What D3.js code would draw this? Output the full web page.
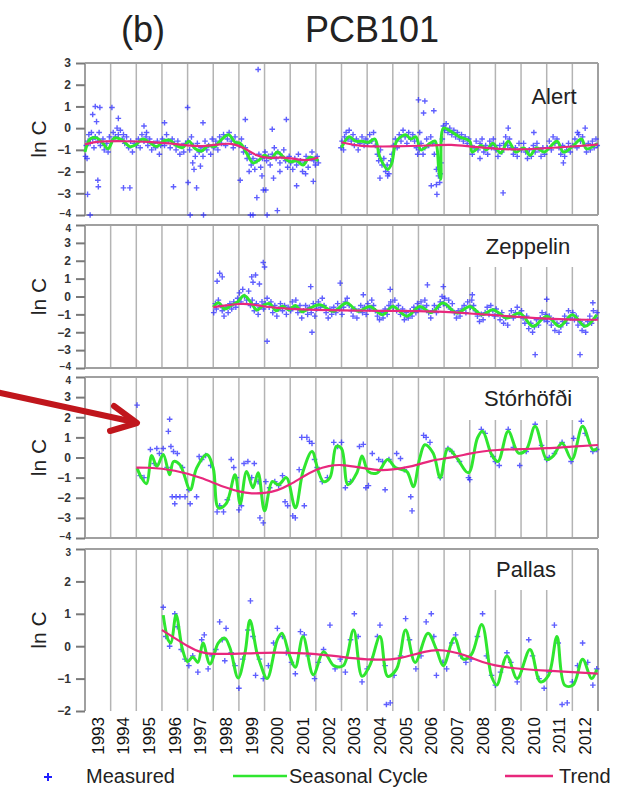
<!DOCTYPE html>
<html>
<head>
<meta charset="utf-8">
<script src="https://cdn.jsdelivr.net/npm/d3@7"></script>
<style>
body { margin: 0; background: #fff; }
svg { display: block; font-family: "Liberation Sans", Arial, sans-serif; }
</style>
</head>
<body>
<svg id="chart" width="631" height="788"></svg>
<script>
// colours
const measuredColor = "#2a2aff";
const seasonalColor = "#2fe62f";
const trendColor = "#e8287c";
const gridColor = "#b4b4b4";
const borderColor = "#a0a0a0";
const arrowColor = "#c0161c";

// x axis: one label per year, written in the middle of the year
const yearLabels = ["1993", "1994", "1995", "1996", "1997", "1998", "1999", "2000", "2001", "2002",
    "2003", "2004", "2005", "2006", "2007", "2008", "2009", "2010", "2011", "2012"];

// y ticks per panel
const alertTicks = [-4, -3, -2, -1, 0, 1, 2, 3];
const zeppelinTicks = [-4, -3, -2, -1, 0, 1, 2, 3, 4];
const storhofdiTicks = [-4, -3, -2, -1, 0, 1, 2, 3, 4];
const pallasTicks = [-2, -1, 0, 1, 2, 3];

// ---- Alert ----  [decimal year, ln C], null = gap in the record
const alertMeasured = [
    [1993.02,-1.3],[1993.05,-0.8],[1993.08,-1.4],[1993.12,-0.6],[1993.15,-0.3],[1993.2,-0.7],[1993.25,-0.2],[1993.3,-0.5],[1993.35,-0.9],[1993.4,-0.4],[1993.5,-0.6],[1993.55,-0.2],[1993.6,-0.8],[1993.7,-0.5],[1993.75,-1.0],[1993.85,-0.7],[1993.9,-1.1],[1993.95,-0.4],
    [1994.05,-0.6],[1994.1,-0.2],[1994.18,-0.4],[1994.25,0.0],[1994.3,-0.3],[1994.38,-0.1],[1994.45,-0.5],[1994.5,-0.3],[1994.55,-0.7],[1994.62,-0.4],[1994.7,-0.9],[1994.78,-0.6],[1994.85,-1.1],[1994.92,-0.7],
    [1995.0,-0.8],[1995.08,-0.5],[1995.15,-0.9],[1995.22,-0.3],[1995.3,-0.6],[1995.38,-0.4],[1995.45,-0.8],[1995.52,-0.5],[1995.6,-1.0],[1995.68,-0.7],[1995.75,-0.9],[1995.82,-0.6],[1995.9,-1.2],[1995.95,-0.8],
    [1996.02,-0.5],[1996.1,-0.8],[1996.18,-0.3],[1996.25,-0.6],[1996.32,-0.9],[1996.4,-0.5],[1996.48,-0.7],[1996.55,-1.0],[1996.62,-0.6],[1996.7,-1.2],[1996.78,-0.8],[1996.85,-1.1],[1996.92,-0.7],
    [1997.02,-0.6],[1997.08,-1.0],[1997.15,-0.4],[1997.22,-0.8],[1997.3,-1.3],[1997.38,-0.7],[1997.45,-1.1],[1997.52,-0.9],[1997.6,-1.3],[1997.68,-0.6],[1997.75,-1.0],[1997.82,-0.8],[1997.9,-1.2],[1997.96,-0.5],
    [1998.03,-0.9],[1998.1,-0.6],[1998.18,-1.0],[1998.25,-0.4],[1998.32,-0.7],[1998.4,-0.3],[1998.48,-0.8],[1998.55,-0.5],[1998.62,-0.2],[1998.7,-0.6],[1998.78,-0.9],[1998.85,-0.4],[1998.92,-0.7],
    [1999.02,-0.8],[1999.1,-0.5],[1999.18,-1.1],[1999.25,-0.9],[1999.32,-1.4],[1999.4,-1.2],[1999.48,-1.7],[1999.55,-1.4],[1999.62,-1.9],[1999.7,-1.5],[1999.78,-1.2],[1999.85,-1.8],[1999.92,-1.4],
    [2000.02,-1.1],[2000.08,-1.5],[2000.15,-1.3],[2000.22,-1.7],[2000.3,-1.2],[2000.38,-0.9],[2000.45,-1.4],[2000.52,-1.1],[2000.6,-1.6],[2000.68,-1.3],[2000.75,-1.0],[2000.82,-1.5],[2000.9,-1.8],[2000.96,-1.3],
    [2001.02,-1.6],[2001.1,-1.9],[2001.18,-1.4],[2001.25,-1.7],[2001.32,-1.2],[2001.4,-1.5],[2001.48,-2.0],[2001.55,-1.6],[2001.62,-1.3],[2001.7,-1.8],[2001.78,-1.4],[2001.85,-1.1],[2001.92,-1.5],[2001.98,-1.7],[2002.05,-1.3],[2002.1,-1.6],
    // outliers
    [1993.4,1.0],[1993.58,0.95],[1993.3,0.63],[1993.45,0.3],[1994.05,0.95],[1993.1,-3.05],[1993.5,-2.4],[1993.52,-2.7],[1993.2,-4.0],[1994.5,-2.75],[1994.75,-2.75],
    [1994.3,0.45],[1995.3,0.1],[1995.4,-0.2],[1996.1,0.25],[1996.45,-2.7],[1997.0,0.95],[1997.02,-2.5],[1997.35,-2.75],[1997.1,-4.0],[1997.6,0.25],[1997.62,-4.0],
    [1997.2,-1.6],[1997.25,-1.9],[1997.5,-1.75],[1999.25,0.4],[1999.05,-2.4],[1999.75,2.7],[1999.95,-2.85],[2000.05,-2.85],[1999.7,-3.2],[1999.45,-4.0],[1999.55,-4.0],
    [2000.1,-4.0],[2000.5,-3.8],[2000.3,-0.05],[2000.85,0.4],[2001.25,-2.65],[2001.9,-2.45],[2000.35,-2.3],[1999.4,-2.0],[1999.9,-2.2],[2000.6,-2.0],[2001.6,-2.1],
    [2002.98,-0.9],[2003.02,-0.6],[2003.08,-1.0],[2003.12,-0.4],[2003.18,-0.2],[2003.25,-0.5],[2003.3,-0.1],[2003.38,-0.6],[2003.45,-0.3],[2003.5,-0.8],[2003.58,-0.5],[2003.65,-1.0],[2003.72,-0.7],[2003.8,-0.4],[2003.88,-0.8],[2003.95,-0.5],
    [2004.02,-0.7],[2004.1,-0.3],[2004.18,-0.6],[2004.25,-0.2],[2004.32,-0.8],[2004.4,-1.2],[2004.45,-1.5],[2004.52,-1.0],[2004.58,-1.7],[2004.65,-1.4],[2004.72,-2.0],[2004.78,-1.7],[2004.85,-2.1],[2004.92,-1.5],[2004.97,-1.2],
    [2005.03,-0.8],[2005.1,-0.5],[2005.17,-0.9],[2005.25,-0.3],[2005.32,-0.6],[2005.4,-0.1],[2005.48,-0.4],[2005.55,-0.7],[2005.62,-0.2],[2005.7,-0.5],[2005.78,-0.3],[2005.85,-0.6],[2005.92,-0.9],[2005.97,-1.2],
    [2006.03,-1.0],[2006.1,-0.7],[2006.18,-1.2],[2006.25,-0.9],[2006.32,-0.5],[2006.4,-0.8],[2006.48,-0.4],[2006.55,-0.7],[2006.62,-1.2],[2006.7,-1.9],[2006.78,-2.2],[2006.83,-2.5],[2006.88,-1.6],[2006.93,-0.5],[2006.97,0.1],
    [2007.02,-0.1],[2007.08,0.2],[2007.15,-0.2],[2007.22,0.0],[2007.3,-0.3],[2007.38,-0.1],[2007.45,-0.4],[2007.52,-0.2],[2007.6,-0.5],[2007.68,-0.3],[2007.75,-0.6],[2007.82,-0.4],[2007.9,-0.7],[2007.96,-0.5],
    [2008.03,-0.8],[2008.1,-1.2],[2008.17,-0.9],[2008.25,-0.6],[2008.32,-1.0],[2008.4,-0.7],[2008.48,-0.5],[2008.55,-1.1],[2008.62,-0.8],[2008.7,-1.2],[2008.78,-0.6],[2008.85,-0.9],[2008.92,-0.5],[2008.97,-0.8],
    [2009.03,-1.0],[2009.1,-1.3],[2009.17,-0.8],[2009.25,-1.1],[2009.32,-0.7],[2009.4,-0.4],[2009.48,-0.8],[2009.55,-0.5],[2009.62,-0.9],[2009.7,-1.2],[2009.78,-0.9],[2009.85,-1.3],[2009.92,-0.7],
    [2010.02,-1.0],[2010.1,-0.7],[2010.18,-1.1],[2010.25,-1.4],[2010.32,-1.0],[2010.4,-1.3],[2010.48,-0.8],[2010.55,-1.1],[2010.62,-0.7],[2010.7,-1.0],[2010.78,-1.3],[2010.85,-0.9],[2010.92,-1.2],
    [2011.02,-0.9],[2011.1,-0.6],[2011.18,-1.0],[2011.25,-0.4],[2011.32,-0.7],[2011.4,-0.5],[2011.48,-0.9],[2011.55,-1.2],[2011.62,-0.8],[2011.7,-1.3],[2011.78,-1.0],[2011.85,-0.7],[2011.92,-1.1],
    [2012.02,-0.8],[2012.1,-0.5],[2012.18,-0.9],[2012.25,-0.3],[2012.32,-0.6],[2012.4,-0.4],[2012.48,-0.8],[2012.55,-1.1],[2012.62,-0.7],[2012.7,-1.0],[2012.78,-0.6],[2012.85,-0.9],[2012.92,-0.5],[2012.97,-0.8],
    // outliers
    [2006.0,1.3],[2006.25,1.25],[2006.2,0.7],[2006.6,0.8],[2006.5,-2.65],[2006.7,-2.6],[2006.72,-3.05],[2006.85,-2.1],[2004.5,-2.3],[2004.8,-2.2],
    [2009.5,0.0],[2010.5,-0.2],[2009.3,-2.98],[2011.65,-1.6],[2012.2,-0.2],[2012.5,0.0],[2006.05,-0.2],[2008.4,-1.4]
];
const alertSeasonal = [
    [1993.0,-1.1],[1993.2,-0.5],[1993.45,-0.45],[1993.7,-0.7],[1993.9,-0.95],[1994.15,-0.45],[1994.45,-0.55],[1994.75,-0.85],[1995.0,-0.75],[1995.25,-0.5],
    [1995.5,-0.65],[1995.8,-0.85],[1996.05,-0.6],[1996.3,-0.55],[1996.55,-0.8],[1996.8,-0.9],[1997.05,-0.6],[1997.3,-0.95],[1997.55,-1.05],[1997.8,-0.8],
    [1998.05,-0.85],[1998.3,-0.55],[1998.6,-0.3],[1998.85,-0.65],[1999.05,-0.7],[1999.3,-1.15],[1999.55,-1.6],[1999.8,-1.45],[2000.0,-1.25],[2000.25,-1.4],
    [2000.5,-1.1],[2000.75,-1.35],[2001.0,-1.55],[2001.25,-1.5],[2001.5,-1.7],[2001.75,-1.35],[2002.1,-1.5],
    null,
    [2003.0,-0.9],[2003.3,-0.4],[2003.55,-0.6],[2003.8,-0.6],[2004.05,-0.65],[2004.3,-0.5],[2004.5,-1.35],[2004.8,-1.9],[2004.95,-1.65],[2005.15,-0.6],
    [2005.5,-0.3],[2005.7,-0.5],[2005.9,-0.4],[2006.1,-1.0],[2006.45,-0.7],[2006.65,-0.6],[2006.8,-2.0],[2006.87,-2.35],[2006.97,0.0],[2007.2,-0.1],
    [2007.6,-0.4],[2008.0,-0.6],[2008.1,-1.1],[2008.45,-0.8],[2008.65,-1.0],[2008.9,-0.7],[2009.2,-1.15],[2009.5,-0.6],[2009.8,-1.1],[2010.1,-0.9],
    [2010.35,-1.25],[2010.6,-0.9],[2010.9,-1.1],[2011.4,-0.6],[2011.65,-1.1],[2012.0,-0.85],[2012.35,-0.5],[2012.55,-0.95],[2012.97,-0.7]
];
const alertTrend = [
    [1993.0,-0.75],[1993.5,-0.6],[1994.5,-0.6],[1995.5,-0.62],[1996.3,-0.7],[1997.0,-0.8],[1997.6,-0.85],[1998.2,-0.75],[1998.7,-0.68],[1999.2,-0.9],
    [1999.7,-1.3],[2000.2,-1.4],[2000.7,-1.32],[2001.3,-1.45],[2001.7,-1.5],[2002.1,-1.35],
    null,
    [2003.0,-0.65],[2003.7,-0.85],[2005.0,-0.85],[2006.5,-0.8],[2007.3,-0.75],[2008.0,-0.85],[2009.0,-0.95],[2010.0,-1.0],[2011.0,-0.92],[2012.0,-0.85],[2013.0,-0.75]
];

// ---- Zeppelin ----
const zeppelinMeasured = [
    [1998.02,-0.9],[1998.08,-0.4],[1998.12,-0.7],[1998.2,-0.2],[1998.28,-0.5],[1998.35,-0.8],[1998.42,-1.1],[1998.5,-0.6],[1998.58,-0.9],[1998.65,-0.4],[1998.72,-0.7],[1998.8,-0.3],[1998.88,-0.6],[1998.95,-0.1],
    [1999.02,0.2],[1999.08,-0.3],[1999.15,0.4],[1999.22,0.0],[1999.3,-0.2],[1999.38,0.3],[1999.45,-0.5],[1999.52,-0.2],[1999.6,-0.8],[1999.68,-0.4],[1999.75,-1.0],[1999.82,-0.6],[1999.9,-0.3],[1999.96,-0.7],
    [2000.03,-0.4],[2000.1,-0.1],[2000.18,-0.6],[2000.25,-0.3],[2000.32,-0.9],[2000.4,-0.5],[2000.48,-1.1],[2000.55,-0.7],[2000.62,-0.4],[2000.7,-0.8],[2000.78,-0.5],[2000.85,-1.0],[2000.92,-0.6],
    [2001.02,-0.8],[2001.08,-0.3],[2001.15,-0.6],[2001.22,-0.2],[2001.3,-0.9],[2001.38,-0.5],[2001.45,-1.2],[2001.52,-0.8],[2001.6,-0.5],[2001.68,-1.0],[2001.75,-0.6],[2001.82,-0.9],[2001.9,-0.4],[2001.96,-1.1],
    [2002.03,-0.7],[2002.1,-0.3],[2002.18,-0.6],[2002.25,-0.1],[2002.32,-0.5],[2002.4,-0.9],[2002.48,-1.2],[2002.55,-0.7],[2002.62,-1.0],[2002.7,-0.6],[2002.78,-0.9],[2002.85,-0.4],[2002.92,-0.7],
    [2003.02,-1.0],[2003.08,-0.6],[2003.15,-0.3],[2003.22,-0.1],[2003.3,-0.5],[2003.38,-0.8],[2003.45,-1.1],[2003.52,-0.7],[2003.6,-1.2],[2003.68,-0.8],[2003.75,-0.5],[2003.82,-0.9],[2003.9,-0.6],[2003.96,-1.0],
    [2004.03,-0.4],[2004.1,-0.7],[2004.18,-0.2],[2004.25,-0.5],[2004.32,-0.8],[2004.4,-1.1],[2004.48,-1.3],[2004.55,-0.9],[2004.62,-1.2],[2004.7,-0.7],[2004.78,-1.0],[2004.85,-0.5],[2004.92,-0.3],
    [2005.02,-0.6],[2005.08,-0.2],[2005.15,-0.8],[2005.22,-0.5],[2005.3,-1.0],[2005.38,-0.7],[2005.45,-1.3],[2005.52,-0.9],[2005.6,-1.2],[2005.68,-0.8],[2005.75,-1.1],[2005.82,-0.6],[2005.9,-0.9],[2005.96,-0.4],
    [2006.03,-0.7],[2006.1,-0.3],[2006.18,-0.6],[2006.25,-0.2],[2006.32,-0.5],[2006.4,-0.9],[2006.48,-1.2],[2006.55,-0.8],[2006.62,-0.5],[2006.7,-0.9],[2006.78,-0.6],[2006.85,-0.3],[2006.92,0.0],[2006.97,-0.4],
    [2007.03,-0.1],[2007.1,-0.5],[2007.18,-0.2],[2007.25,-0.7],[2007.32,-0.4],[2007.4,-0.9],[2007.48,-1.2],[2007.55,-0.8],[2007.62,-1.1],[2007.7,-0.7],[2007.78,-0.5],[2007.85,-0.9],[2007.92,-0.3],
    [2008.02,-0.6],[2008.08,-0.2],[2008.15,-0.5],[2008.22,-0.8],[2008.3,-1.1],[2008.38,-1.4],[2008.45,-1.0],[2008.52,-1.3],[2008.6,-0.9],[2008.68,-0.6],[2008.75,-1.0],[2008.82,-0.5],[2008.9,-0.8],[2008.96,-1.1],
    [2009.03,-0.7],[2009.1,-1.0],[2009.18,-1.3],[2009.25,-0.9],[2009.32,-1.5],[2009.4,-1.2],[2009.48,-1.6],[2009.55,-1.1],[2009.62,-0.8],[2009.7,-1.2],[2009.78,-0.9],[2009.85,-0.6],[2009.92,-1.0],
    [2010.02,-0.8],[2010.08,-1.2],[2010.15,-1.5],[2010.22,-1.1],[2010.3,-1.8],[2010.38,-1.5],[2010.45,-2.0],[2010.52,-1.7],[2010.6,-1.3],[2010.68,-1.6],[2010.75,-1.2],[2010.82,-0.9],[2010.9,-1.3],[2010.96,-1.0],
    [2011.03,-1.4],[2011.1,-1.1],[2011.18,-1.6],[2011.25,-1.3],[2011.32,-1.9],[2011.4,-1.5],[2011.48,-2.0],[2011.55,-1.7],[2011.62,-1.4],[2011.7,-1.1],[2011.78,-1.5],[2011.85,-0.8],[2011.92,-1.2],
    [2012.02,-0.9],[2012.08,-1.3],[2012.15,-1.1],[2012.22,-1.6],[2012.3,-1.4],[2012.38,-1.9],[2012.45,-1.6],[2012.52,-2.0],[2012.6,-1.4],[2012.68,-1.1],[2012.75,-1.5],[2012.82,-0.8],[2012.9,-1.2],[2012.96,-0.9],
    // outliers
    [1998.15,0.85],[1998.25,1.3],[1998.35,1.1],[1999.5,1.1],[1999.65,1.2],[1999.95,1.9],[2000.0,1.65],[1999.55,0.8],[1999.8,0.7],[2000.1,-2.5],
    [2001.8,0.55],[2001.85,-2.0],[2002.95,0.75],[2006.35,0.65],[2006.97,0.55],[2008.1,0.1],[2010.55,-3.25],[2011.0,-0.15],[2012.3,-3.25],[2012.8,-0.35],[2003.85,0.1],[2004.9,0.4]
];
const zeppelinSeasonal = [
    [1998.0,-0.6],[1998.2,-0.35],[1998.45,-0.7],[1998.7,-0.5],[1998.95,-0.3],[1999.2,0.05],[1999.45,-0.3],[1999.7,-0.75],[1999.95,-0.5],[2000.2,-0.4],
    [2000.45,-0.8],[2000.7,-0.55],[2000.95,-0.75],[2001.2,-0.5],[2001.45,-0.85],[2001.65,-0.74],[2002.15,-0.46],[2002.67,-0.83],[2003.2,-0.37],[2003.65,-0.83],
    [2004.1,-0.56],[2004.6,-1.02],[2005.0,-0.56],[2005.55,-1.1],[2006.05,-0.56],[2006.5,-0.9],[2006.95,-0.37],[2007.5,-0.93],[2008.0,-0.56],[2008.47,-1.02],
    [2008.9,-0.74],[2009.45,-1.2],[2009.95,-0.93],[2010.47,-1.67],[2011.0,-1.1],[2011.5,-1.67],[2012.0,-1.02],[2012.5,-1.67],[2012.95,-1.02]
];
const zeppelinTrend = [
    [1998.0,-0.6],[1998.5,-0.5],[1999.0,-0.4],[1999.5,-0.42],[2000.0,-0.58],[2001.0,-0.7],[2002.0,-0.75],[2003.0,-0.78],[2004.0,-0.8],[2005.0,-0.8],
    [2006.0,-0.82],[2007.0,-0.85],[2008.0,-0.95],[2009.0,-1.05],[2010.0,-1.15],[2011.0,-1.25],[2012.0,-1.3],[2013.0,-1.3]
];

// ---- Stórhöfði ----
const storhofdiMeasured = [
    [1995.03,2.6],[1995.15,-0.9],[1995.3,-1.0],[1995.55,0.4],[1995.7,-0.3],[1995.8,0.45],[1995.9,0.2],[1996.05,0.45],[1996.2,-0.5],[1996.25,1.3],
    [1996.3,1.9],[1996.35,0.55],[1996.4,-1.95],[1996.45,0.3],[1996.5,-2.3],[1996.55,-1.95],[1996.6,0.2],[1996.7,-1.95],[1996.8,-0.5],[1996.9,-1.95],
    [1997.05,-1.6],[1997.1,-2.3],[1997.35,-1.95],[1997.45,0.05],[1997.55,-0.1],[1997.7,0.1],[1997.9,-0.4],[1998.15,-2.7],[1998.25,-2.4],[1998.4,-2.7],
    [1998.55,-2.1],[1998.7,-0.1],[1998.8,-0.5],[1998.9,-1.0],[1999.0,-2.6],[1999.1,-2.4],[1999.2,-0.3],[1999.35,-0.2],[1999.5,-1.0],[1999.6,-0.3],
    [1999.75,-1.2],[1999.82,-3.0],[1999.95,-3.25],[2000.05,-1.2],[2000.2,-1.5],[2000.4,-1.2],[2000.55,-1.4],[2000.7,-0.9],[2000.8,-2.2],[2000.9,-2.4],
    [2001.1,-2.9],[2001.2,-3.0],[2001.35,-0.6],[2001.45,1.0],[2001.55,-2.4],[2001.65,1.0],[2001.75,0.8],[2001.85,0.7],[2001.95,-0.1],[2002.05,-0.5],
    [2002.25,-1.2],[2002.45,-1.0],[2002.7,0.75],[2002.85,0.55],[2003.0,0.75],[2003.15,-1.5],[2003.35,-1.2],[2003.7,0.55],[2003.85,0.65],[2003.95,-1.5],
    [2004.05,-1.4],[2004.2,0.2],[2004.45,-0.1],[2004.6,-0.2],[2004.7,-1.6],[2004.85,-0.1],[2005.15,0.2],[2005.3,-0.05],[2005.45,-0.6],[2005.7,-1.95],
    [2005.75,-2.65],[2006.2,1.1],[2006.3,1.0],[2006.45,0.75],[2006.85,-1.0],[2007.15,0.45],[2007.3,0.3],[2007.6,-0.2],[2007.95,-1.0],[2008.0,-1.1],
    [2008.45,1.4],[2008.6,1.2],[2008.9,0.05],[2009.0,-0.2],[2009.15,-0.4],[2009.5,1.4],[2009.7,0.5],[2009.95,-0.4],[2010.2,0.3],[2010.55,1.65],
    [2010.8,0.6],[2011.0,-0.1],[2011.1,0.0],[2011.3,0.2],[2011.6,0.75],[2011.95,-0.2],[2012.05,0.95],[2012.35,1.8],[2012.5,1.2],[2012.8,0.3],[2012.95,0.4]
];
const storhofdiSeasonal = [
    [1995.03,-0.53],[1995.2,-1.0],[1995.4,-1.3],[1995.6,0.1],[1995.8,-0.45],[1996.05,0.15],[1996.3,-0.86],[1996.45,-0.2],[1996.7,-0.36],[1997.1,-1.6],
    [1997.35,-0.53],[1997.75,0.15],[1998.0,-0.53],[1998.2,-2.5],[1998.5,-2.3],[1998.85,-0.86],[1999.05,-2.3],[1999.3,-0.7],[1999.55,-1.5],[1999.75,-0.76],
    [2000.0,-2.65],[2000.3,-1.2],[2000.55,-1.35],[2000.85,-1.0],[2001.2,-2.5],[2001.5,-0.7],[2001.85,0.3],[2002.1,-0.7],[2002.3,-1.2],[2002.55,-1.0],
    [2002.8,0.55],[2003.0,0.45],[2003.25,-1.35],[2003.6,-0.76],[2003.8,0.07],[2004.05,-0.7],[2004.4,-0.76],[2004.8,-0.1],[2005.1,-0.5],[2005.55,-0.7],
    [2005.8,-1.45],[2006.05,-0.03],[2006.25,0.63],[2006.57,0.22],[2006.85,-1.0],[2007.15,0.45],[2007.5,-0.03],[2007.95,-0.76],[2008.3,0.97],[2008.5,1.3],
    [2008.85,0.15],[2009.1,-0.2],[2009.5,1.3],[2009.9,0.22],[2010.2,0.38],[2010.55,1.55],[2011.0,-0.1],[2011.25,0.07],[2011.6,0.72],[2011.98,-0.1],
    [2012.4,1.55],[2012.8,0.38],[2012.97,0.45]
];
const storhofdiTrend = [
    [1995.0,-0.5],[1995.5,-0.5],[1996.0,-0.55],[1996.5,-0.65],[1997.0,-0.8],[1997.5,-1.0],[1998.0,-1.25],[1998.5,-1.5],[1999.0,-1.7],[1999.5,-1.8],
    [2000.0,-1.78],[2000.5,-1.65],[2001.0,-1.35],[2001.5,-0.95],[2002.0,-0.6],[2002.5,-0.4],[2003.0,-0.35],[2003.5,-0.45],[2004.0,-0.55],[2004.5,-0.65],
    [2005.0,-0.6],[2005.5,-0.5],[2006.0,-0.35],[2006.5,-0.15],[2007.0,-0.05],[2007.5,0.05],[2008.0,0.2],[2008.5,0.3],[2009.0,0.38],[2010.0,0.42],
    [2011.0,0.45],[2012.0,0.55],[2013.0,0.62]
];

// ---- Pallas ----
const pallasMeasured = [
    [1996.05,1.2],[1996.15,0.3],[1996.3,0.0],[1996.5,1.0],[1996.6,0.6],[1996.75,-0.1],[1996.9,-0.4],[1997.05,-0.6],[1997.2,-0.3],[1997.4,-0.8],
    [1997.55,0.2],[1997.65,0.35],[1997.8,-0.7],[1997.95,-0.3],[1998.1,-0.1],[1998.25,0.75],[1998.35,0.2],[1998.45,-0.45],[1998.5,0.55],[1998.7,-0.2],
    [1998.85,-0.6],[1999.0,-1.3],[1999.15,-0.4],[1999.35,0.5],[1999.45,1.4],[1999.55,0.3],[1999.65,-0.9],[1999.8,-0.4],[1999.95,-1.0],[2000.15,-0.6],
    [2000.35,0.1],[2000.5,0.55],[2000.7,0.3],[2000.85,-0.2],[2001.05,-0.5],[2001.2,-0.85],[2001.4,0.45],[2001.55,0.35],[2001.7,-0.3],[2001.95,-1.0],
    [2002.1,-0.5],[2002.3,-0.1],[2002.55,0.65],[2002.75,-0.7],[2002.95,-0.4],[2003.15,-0.8],[2003.35,0.2],[2003.5,1.0],[2003.65,0.3],[2003.8,-1.1],
    [2004.0,-0.7],[2004.2,-0.4],[2004.4,0.3],[2004.5,0.65],[2004.7,-0.6],[2004.75,-1.8],[2004.9,-1.75],[2005.05,-0.9],[2005.3,-0.3],[2005.5,0.85],
    [2005.65,0.2],[2005.9,-0.7],[2006.1,-0.3],[2006.3,0.75],[2006.5,1.0],[2006.6,0.3],[2006.7,-0.9],[2006.95,-0.5],[2007.1,-0.7],[2007.3,0.1],
    [2007.45,0.35],[2007.65,-0.3],[2007.85,-0.5],[2008.05,-0.4],[2008.3,0.3],[2008.5,1.0],[2008.65,-0.3],[2008.85,-0.9],[2009.0,-1.2],[2009.2,-0.8],
    [2009.45,-0.2],[2009.6,-0.5],[2009.85,-1.1],[2010.05,-0.7],[2010.3,0.2],[2010.45,-0.3],[2010.7,-1.0],[2010.9,-1.3],[2011.1,-0.8],[2011.3,0.65],
    [2011.45,0.1],[2011.6,-1.8],[2011.8,-1.75],[2012.0,-1.1],[2012.2,-0.6],[2012.4,0.1],[2012.6,-0.5],[2012.8,-1.2],[2012.95,-0.7]
];
const pallasSeasonal = [
    [1996.05,0.96],[1996.25,0.18],[1996.35,0.1],[1996.55,0.96],[1996.8,-0.1],[1997.0,-0.48],[1997.2,-0.33],[1997.4,-0.5],[1997.6,0.1],[1997.87,-0.55],
    [1998.2,0.1],[1998.45,0.25],[1998.65,-0.05],[1998.97,-0.98],[1999.24,-0.2],[1999.43,0.8],[1999.7,-0.2],[1999.82,-0.5],[2000.1,-1.0],[2000.5,0.2],
    [2000.68,0.4],[2000.98,-0.3],[2001.2,-0.65],[2001.5,0.3],[2001.9,-0.88],[2002.3,-0.17],[2002.7,-0.6],[2003.07,-0.6],[2003.47,0.5],[2003.8,-0.93],
    [2004.1,-0.6],[2004.5,0.3],[2004.8,-0.93],[2005.15,-0.7],[2005.5,0.5],[2005.87,-0.5],[2006.37,0.4],[2006.7,-0.1],[2006.97,-0.6],[2007.4,0.25],
    [2007.75,-0.4],[2008.07,-0.25],[2008.47,0.67],[2008.85,-0.93],[2009.05,-1.2],[2009.45,-0.3],[2009.85,-1.0],[2010.35,-0.1],[2010.75,-1.1],[2011.07,-0.9],
    [2011.4,0.3],[2011.7,-1.2],[2012.03,-1.2],[2012.4,-0.4],[2012.75,-1.0],[2012.95,-0.72]
];
const pallasTrend = [
    [1996.0,0.5],[1996.5,0.25],[1997.0,0.0],[1997.5,-0.2],[1998.0,-0.25],[1999.0,-0.23],[2000.0,-0.2],[2001.0,-0.2],[2002.0,-0.23],[2003.0,-0.33],
    [2004.0,-0.42],[2005.0,-0.42],[2005.5,-0.33],[2006.0,-0.22],[2006.5,-0.12],[2007.0,-0.12],[2007.5,-0.2],[2008.0,-0.33],[2008.5,-0.5],[2009.0,-0.6],
    [2009.5,-0.66],[2010.0,-0.7],[2011.0,-0.76],[2012.0,-0.8],[2013.0,-0.85]
];

// panel layout (pixel positions of each frame and its label)
const panels = [
    { name: "Alert", measured: alertMeasured, seasonal: alertSeasonal, trend: alertTrend, ticks: alertTicks,
      top: 63, bottom: 215, labelX: 554, labelY: 104, box: null },
    { name: "Zeppelin", measured: zeppelinMeasured, seasonal: zeppelinSeasonal, trend: zeppelinTrend, ticks: zeppelinTicks,
      top: 225, bottom: 368, labelX: 528, labelY: 254, box: [456, 584, 267] },
    { name: "Stórhöfði", measured: storhofdiMeasured, seasonal: storhofdiSeasonal, trend: storhofdiTrend, ticks: storhofdiTicks,
      top: 377, bottom: 538, labelX: 528, labelY: 406, box: [456, 584, 420] },
    { name: "Pallas", measured: pallasMeasured, seasonal: pallasSeasonal, trend: pallasTrend, ticks: pallasTicks,
      top: 549, bottom: 711, labelX: 526, labelY: 577, box: [481, 559, 590] }
];

const svg = d3.select("#chart");
const left = 85;
const right = 598;

const x = d3.scaleLinear().domain([1993, 2013]).range([left, right]);
const gridYears = d3.range(1994, 2013);

const plusPath = "M-2.8,0H2.8M0,-2.8V2.8";

panels.forEach((p, pi) => {
    const y = d3.scaleLinear().domain(d3.extent(p.ticks)).range([p.bottom, p.top]);
    const g = svg.append("g");
    const yMin = d3.min(p.ticks);
    const yMax = d3.max(p.ticks);

    // year grid lines
    g.append("g")
        .selectAll("line")
        .data(gridYears)
        .join("line")
        .attr("x1", d => x(d)).attr("x2", d => x(d))
        .attr("y1", p.top).attr("y2", p.bottom)
        .attr("stroke", gridColor)
        .attr("stroke-width", 1.5);

    // white box behind the station name
    if (p.box) {
        g.append("rect")
            .attr("x", p.box[0]).attr("width", p.box[1] - p.box[0])
            .attr("y", p.top + 1).attr("height", p.box[2] - p.top - 1)
            .attr("fill", "#fff");
    }

    // frame
    const frame = g.append("g")
        .attr("stroke", borderColor)
        .attr("stroke-width", 2)
        .attr("fill", "none");
    frame.append("line").attr("x1", left).attr("x2", right).attr("y1", p.top).attr("y2", p.top);
    frame.append("line").attr("x1", left).attr("x2", left).attr("y1", p.top).attr("y2", p.bottom);
    frame.append("line").attr("x1", right).attr("x2", right).attr("y1", p.top).attr("y2", p.bottom);
    if (pi < panels.length - 1) {
        frame.append("line").attr("x1", left).attr("x2", right).attr("y1", p.bottom).attr("y2", p.bottom);
    }

    // y axis ticks
    const axis = g.append("g")
        .attr("transform", `translate(${left},0)`)
        .call(d3.axisLeft(y).tickValues(p.ticks).tickSize(9).tickPadding(5).tickFormat(d3.format("d")));
    axis.select(".domain").remove();
    axis.selectAll(".tick line").attr("stroke", "#7a7a7a").attr("stroke-width", 2);
    axis.selectAll(".tick text")
        .attr("font-size", 12)
        .attr("font-weight", "bold")
        .attr("fill", "#333")
        .attr("font-family", "Liberation Sans, Arial, sans-serif")
        // labels where two panels meet are squeezed apart a little
        .attr("dy", d => {
            if (d === yMin && pi < panels.length - 1) return "0.1em";
            if (d === yMax && pi > 0) return "0.6em";
            return "0.32em";
        })
        .attr("font-size", d => ((d === yMin && pi < panels.length - 1) || (d === yMax && pi > 0)) ? 10 : 12);

    // y label
    g.append("text")
        .attr("transform", `translate(39,${(p.top + p.bottom) / 2}) rotate(-90)`)
        .attr("text-anchor", "middle")
        .attr("dy", "0.35em")
        .attr("font-size", 21)
        .attr("fill", "#222")
        .text("ln C");

    // station name
    g.append("text")
        .attr("x", p.labelX).attr("y", p.labelY)
        .attr("text-anchor", "middle")
        .attr("font-size", 22)
        .attr("fill", "#222")
        .text(p.name);

    // measured values
    g.append("g")
        .attr("stroke", measuredColor)
        .attr("stroke-width", 1.4)
        .attr("stroke-opacity", 0.75)
        .selectAll("path")
        .data(p.measured)
        .join("path")
        .attr("transform", d => `translate(${x(d[0])},${y(d[1])})`)
        .attr("d", plusPath);

    // seasonal cycle
    g.append("path")
        .datum(p.seasonal)
        .attr("fill", "none")
        .attr("stroke", seasonalColor)
        .attr("stroke-width", 3)
        .attr("stroke-linejoin", "round")
        .attr("d", d3.line()
            .defined(d => d !== null)
            .x(d => x(d[0])).y(d => y(d[1]))
            .curve(d3.curveCatmullRom.alpha(0.5)));

    // trend
    g.append("path")
        .datum(p.trend)
        .attr("fill", "none")
        .attr("stroke", trendColor)
        .attr("stroke-width", 2.2)
        .attr("d", d3.line()
            .defined(d => d !== null)
            .x(d => x(d[0])).y(d => y(d[1]))
            .curve(d3.curveBasis));
});

// year labels under the last panel
svg.append("g")
    .selectAll("text")
    .data(yearLabels)
    .join("text")
    .attr("transform", d => `translate(${x(+d + 0.5)},717) rotate(-90)`)
    .attr("text-anchor", "end")
    .attr("dy", "0.35em")
    .attr("font-size", 17)
    .attr("fill", "#111")
    .text(d => d);

// title
svg.append("text").attr("x", 121).attr("y", 42).attr("font-size", 36).attr("fill", "#222").text("(b)");
svg.append("text").attr("x", 305).attr("y", 42).attr("font-size", 36).attr("fill", "#222").text("PCB101");

// red arrow pointing at the first Stórhöfði sample
const arrow = svg.append("g")
    .attr("stroke", arrowColor)
    .attr("stroke-width", 6)
    .attr("stroke-linecap", "round")
    .attr("stroke-linejoin", "round")
    .attr("fill", "none");
arrow.append("path").attr("d", "M-4,392L134,422");
arrow.append("path").attr("d", "M114,406L137,423L110,431");

// legend
const legend = svg.append("g").attr("font-size", 20).attr("fill", "#222");
legend.append("path")
    .attr("transform", "translate(48,777)")
    .attr("d", "M-4,0H4M0,-4V4")
    .attr("stroke", "#2020ff")
    .attr("stroke-width", 2);
legend.append("text").attr("x", 86).attr("y", 783).text("Measured");
legend.append("line").attr("x1", 233).attr("x2", 287).attr("y1", 776).attr("y2", 776)
    .attr("stroke", seasonalColor).attr("stroke-width", 2.5);
legend.append("text").attr("x", 289).attr("y", 783).text("Seasonal Cycle");
legend.append("line").attr("x1", 505).attr("x2", 553).attr("y1", 776).attr("y2", 776)
    .attr("stroke", trendColor).attr("stroke-width", 2.5);
legend.append("text").attr("x", 559).attr("y", 783).text("Trend");
</script>
</body>
</html>
